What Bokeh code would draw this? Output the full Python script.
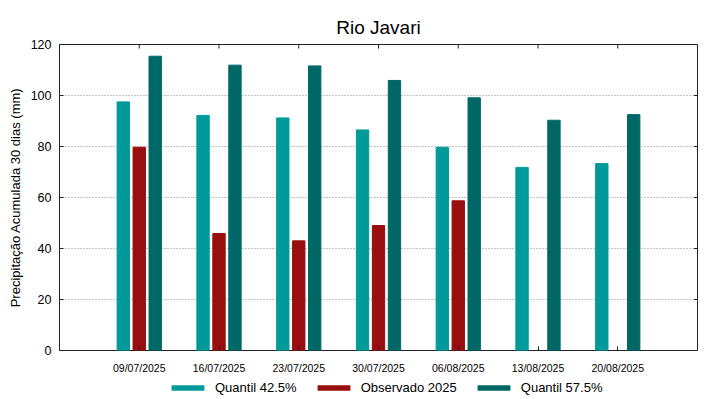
import math
from bokeh.plotting import figure
from bokeh.layouts import column
from bokeh.models import ColumnDataSource, Range1d, FixedTicker, Legend, LegendItem
from bokeh.transform import dodge
from bokeh.embed import file_html
from bokeh.resources import INLINE

# ---- data ----
dates = ["09/07/2025", "16/07/2025", "23/07/2025", "30/07/2025",
         "06/08/2025", "13/08/2025", "20/08/2025"]
positions = [1, 2, 3, 4, 5, 6, 7]
quantil_425 = [97.5, 92.2, 91.2, 86.5, 79.7, 71.8, 73.3]
observado_2025 = [79.7, 45.9, 43.0, 49.0, 58.7, float("nan"), float("nan")]
quantil_575 = [115.4, 111.9, 111.6, 105.9, 99.1, 90.3, 92.5]
y_ticks = [0, 20, 40, 60, 80, 100, 120]
series_names = ["Quantil 42.5%", "Observado 2025", "Quantil 57.5%"]
series_cols = ["q425", "obs", "q575"]

FONT = "Liberation Sans"
C_Q425 = "#009a9a"
C_OBS = "#990e0e"
C_Q575 = "#006767"
colors = [C_Q425, C_OBS, C_Q575]
TICK_C = "#222222"

src = ColumnDataSource(dict(x=positions, q425=quantil_425, obs=observado_2025, q575=quantil_575))

p = figure(width=719, height=376, output_backend="svg", toolbar_location=None,
           x_range=Range1d(0, 8), y_range=Range1d(0, 120),
           min_border_left=59, min_border_right=22, min_border_top=44, min_border_bottom=26)

p.title.text = "Rio Javari"
p.title.text_font = FONT
p.title.text_font_size = "19px"
p.title.text_font_style = "normal"
p.title.text_color = "#000000"
p.title.align = "center"
p.title.vertical_align = "top"
p.title.standoff = 9

w = 0.155
offsets = [-0.2, 0.0, 0.2]
for col, off, c in zip(series_cols, offsets, colors):
    p.vbar(x=dodge("x", off, range=p.x_range), top=col, width=w, bottom=0,
           source=src, fill_color=c, line_color=c)

# mirror tick marks (top edge at categories, right edge at y ticks)
p.scatter(x=positions, y=[y_ticks[-1]] * len(positions), marker="dash", angle=math.pi / 2,
          size=8, line_color=TICK_C, line_width=1)
p.scatter(x=[p.x_range.end] * len(y_ticks), y=y_ticks, marker="dash",
          size=7, line_color=TICK_C, line_width=1)

p.outline_line_color = TICK_C
p.outline_line_width = 1
p.outline_line_alpha = 1

# x axis
xa = p.xaxis[0]
xa.ticker = FixedTicker(ticks=positions)
xa.major_label_overrides = {pos: d for pos, d in zip(positions, dates)}
xa.major_label_text_font = FONT
xa.major_label_text_font_size = "10.5px"
xa.major_label_text_color = "#000000"
xa.major_label_standoff = 11
xa.major_tick_in = 4
xa.major_tick_out = 0
xa.major_tick_line_color = TICK_C
xa.axis_line_color = None
xa.minor_tick_line_color = None

# y axis
ya = p.yaxis[0]
ya.ticker = FixedTicker(ticks=y_ticks)
ya.axis_label = "Precipitação Acumulada 30 dias (mm)"
ya.axis_label_text_font = FONT
ya.axis_label_text_font_size = "13px"
ya.axis_label_text_font_style = "normal"
ya.axis_label_text_color = "#000000"
ya.axis_label_standoff = 5
ya.major_label_text_font = FONT
ya.major_label_text_font_size = "12.5px"
ya.major_label_text_color = "#000000"
ya.major_label_standoff = 8
ya.major_tick_in = 4
ya.major_tick_out = 0
ya.major_tick_line_color = TICK_C
ya.axis_line_color = None
ya.minor_tick_line_color = None

p.xgrid.grid_line_color = None
p.ygrid.ticker = FixedTicker(ticks=y_ticks)
p.ygrid.grid_line_color = "#8a8a8a"
p.ygrid.grid_line_dash = "1 2"
p.ygrid.grid_line_width = 1

# ---- legend strip below the chart ----
pl = figure(width=719, height=23, output_backend="svg", toolbar_location=None,
            x_range=Range1d(-20, -19), y_range=Range1d(1000, 1001),
            min_border_left=0, min_border_right=0, min_border_top=0, min_border_bottom=0)
pl.axis.visible = False
pl.grid.visible = False
pl.outline_line_color = None
# legend renderers share the data, but lie outside this strip's visible range
lr = [pl.vbar(x="x", top=col, width=0.1, source=src, fill_color=c, line_color=None)
      for col, c in zip(series_cols, colors)]

legend = Legend(items=[LegendItem(label=n, renderers=[r]) for n, r in zip(series_names, lr)],
                orientation="horizontal", location=(108, 4),
                label_text_font=FONT, label_text_font_size="13px", label_text_color="#000000",
                glyph_width=41, glyph_height=7, label_height=14, label_standoff=7,
                spacing=16, padding=0, margin=0, border_line_color=None,
                background_fill_alpha=0)
pl.add_layout(legend, "center")

layout = column(p, pl, spacing=0)
open("out.html", "w").write(file_html(layout, INLINE))
